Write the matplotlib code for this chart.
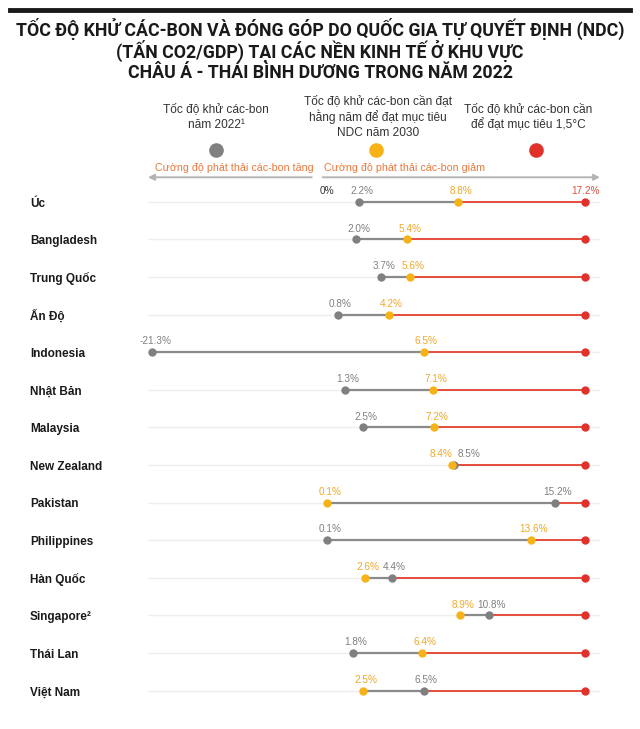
import matplotlib
matplotlib.use('Agg')
import matplotlib.pyplot as plt
import matplotlib.transforms as mtransforms
from matplotlib.lines import Line2D
import numpy as np

# data
countries = ['Úc', 'Bangladesh', 'Trung Quốc', 'Ấn Độ', 'Indonesia', 'Nhật Bản',
             'Malaysia', 'New Zealand', 'Pakistan', 'Philippines', 'Hàn Quốc',
             'Singapore²', 'Thái Lan', 'Việt Nam']
rate_2022 = [2.2, 2.0, 3.7, 0.8, -21.3, 1.3, 2.5, 8.5, 15.2, 0.1, 4.4, 10.8, 1.8, 6.5]
rate_ndc = [8.8, 5.4, 5.6, 4.2, 6.5, 7.1, 7.2, 8.4, 0.1, 13.6, 2.6, 8.9, 6.4, 2.5]
rate_15c = 17.2

title = ['TỐC ĐỘ KHỬ CÁC-BON VÀ ĐÓNG GÓP DO QUỐC GIA TỰ QUYẾT ĐỊNH (NDC)',
         '(TẤN CO2/GDP) TẠI CÁC NỀN KINH TẾ Ở KHU VỰC',
         'CHÂU Á - THÁI BÌNH DƯƠNG TRONG NĂM 2022']

GRAY = '#808080'
YELLOW = '#f7b218'
RED = '#e0322a'
ORANGE = '#e8783c'

plt.rcParams['font.family'] = ['Liberation Sans', 'DejaVu Sans']

W, H = 640, 729
fig = plt.figure(figsize=(6.4, 7.29), dpi=100)
fig.patch.set_facecolor('white')
ax = fig.add_axes([0, 0, 1, 1])
ax.axis('off')


def fx(x):
    return x / W


def fy(y):
    return 1 - y / H


# negative side of the axis is squeezed
K = 0.538
ax.set_xscale('function', functions=(lambda x: np.where(x < 0, x * K, x),
                                     lambda x: np.where(x < 0, x / K, x)))
X0, PX = 325.5, 15.1
ax.set_xlim((0 - X0) / PX / K, (W - X0) / PX)
Y0, DY = 201.7, 37.6
ax.set_ylim((H - Y0) / DY, (0 - Y0) / DY)

rows = np.arange(len(countries))
ax.hlines(rows, (148 - X0) / PX / K, (600 - X0) / PX, color='#eeeeee', lw=1, zorder=1)

for i, (a, b) in enumerate(zip(rate_2022, rate_ndc)):
    lo, hi = min(a, b), max(a, b)
    ax.plot([lo, hi], [i, i], color='#8a8a8a', lw=1.6, solid_capstyle='butt', zorder=2)
    ax.plot([hi, rate_15c], [i, i], color='#e4402f', lw=1.3, solid_capstyle='butt', zorder=2)

ax.scatter(rate_2022, rows, s=36, color=GRAY, zorder=3, linewidths=0)
ax.scatter(rate_ndc, rows, s=36, color=YELLOW, zorder=4, linewidths=0)
ax.scatter([rate_15c] * len(rows), rows, s=36, color=RED, zorder=3, linewidths=0)

for i, (a, b) in enumerate(zip(rate_2022, rate_ndc)):
    if abs(a - b) < 1:
        ga, gdx = ('left', 2.5) if a > b else ('right', -2.5)
        ya, ydx = ('right', 0) if a > b else ('left', 0)
    else:
        ga, gdx, ya, ydx = 'center', 2, 'center', 2
    ax.annotate(f'{a:.1f}%', (a, i), xytext=(gdx, 7.7), textcoords='offset points',
                ha=ga, va='center', fontsize=7.2, color=GRAY)
    ax.annotate(f'{b:.1f}%', (b, i), xytext=(ydx, 7.7), textcoords='offset points',
                ha=ya, va='center', fontsize=7.2, color='#f0a82a')

ax.annotate(f'{rate_15c:.1f}%', (rate_15c, 0), xytext=(0, 7.7), textcoords='offset points',
            ha='center', va='center', fontsize=7.2, color='#e0503e')
ax.annotate('0%', (0, 0), xytext=(1, 7.7), textcoords='offset points',
            ha='center', va='center', fontsize=7.2, color='#333333')

trans = mtransforms.blended_transform_factory(fig.transFigure, ax.transData)
for i, name in enumerate(countries):
    ax.text(fx(30), i + 0.05, name, transform=trans, ha='left', va='center',
            fontsize=8.5, fontweight='bold', color='#1a1a1a')

# header
fig.add_artist(Line2D([fx(10), fx(630)], [fy(10), fy(10)], lw=3.5, color='#1a1a1a'))
title_texts = []
for j, line in enumerate(title):
    title_texts.append(fig.text(0.5, fy(28.5 + 22 * j), line, ha='center', va='center',
                                fontsize=14, fontweight='bold',
                                family=['Roboto', 'DejaVu Sans'], color='#1a1a1a'))
# shrink the title so that the first line is as wide as in the reference
fig.canvas.draw()
w0 = title_texts[0].get_window_extent().width
for t in title_texts:
    t.set_fontsize(14 * 614 / w0)

# legend
leg = [(216, ['Tốc độ khử các-bon', 'năm 2022¹'], [109, 124.5], GRAY, 215.7),
       (378, ['Tốc độ khử các-bon cần đạt', 'hằng năm để đạt mục tiêu', 'NDC năm 2030'],
        [101, 117, 133.5], YELLOW, 375.7),
       (528, ['Tốc độ khử các-bon cần', 'để đạt mục tiêu 1,5°C'], [109, 124.5], RED, 536)]
for cx, lines, ys, col, dx in leg:
    for line, yy in zip(lines, ys):
        fig.text(fx(cx), fy(yy), line, ha='center', va='center', fontsize=8.6, color='#333333')
    fig.add_artist(Line2D([fx(dx)], [fy(150)], marker='o', markersize=9.5, color=col, lw=0))

fig.text(fx(155), fy(167.7), 'Cường độ phát thải các-bon tăng', ha='left', va='center',
         fontsize=7.7, color=ORANGE)
fig.text(fx(323.5), fy(167.7), 'Cường độ phát thải các-bon giảm', ha='left', va='center',
         fontsize=7.7, color=ORANGE)
arrow = dict(arrowstyle='-|>', color='#b4b4b4', lw=1.4, mutation_scale=9, shrinkA=0, shrinkB=0)
ax.annotate('', xy=(fx(148), fy(177.3)), xytext=(fx(311.7), fy(177.3)),
            xycoords='figure fraction', arrowprops=arrow)
ax.annotate('', xy=(fx(600), fy(177.3)), xytext=(fx(322.7), fy(177.3)),
            xycoords='figure fraction', arrowprops=arrow)

fig.savefig('out.png', dpi=100, facecolor='white')
